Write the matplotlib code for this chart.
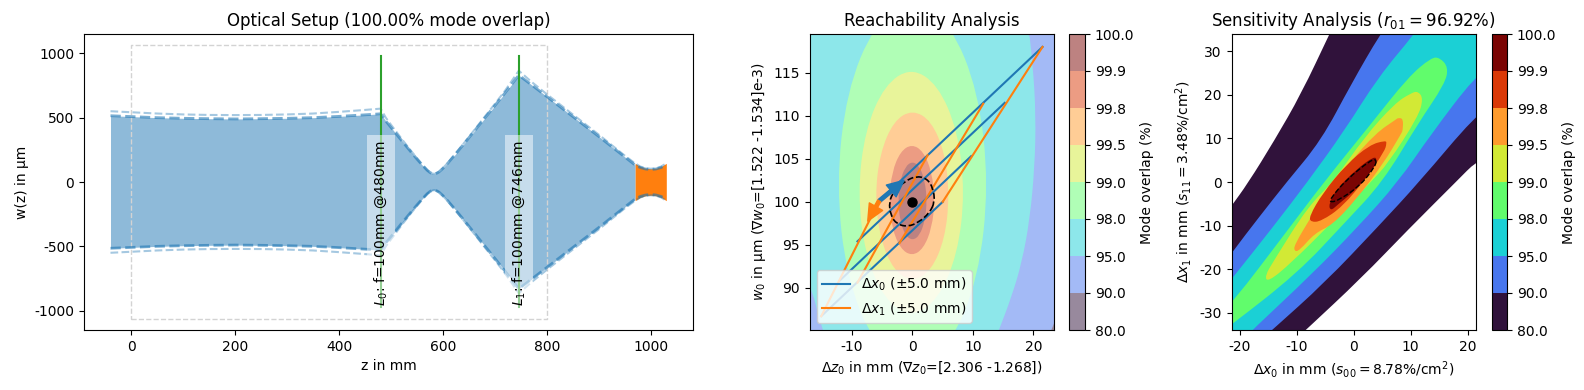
import numpy as np
from matplotlib import pyplot as plt
from matplotlib.cm import ScalarMappable
from matplotlib.colors import BoundaryNorm, ListedColormap
from matplotlib.patches import PathPatch
from matplotlib.path import Path

plt.rcParams['axes.unicode_minus'] = False

# Optical setup: beam radius
beam_z = [-40, 50, 100, 150, 200, 250, 300, 350, 400, 450, 480, 490, 500, 510, 520, 530, 540, 550, 560, 570,
          575, 580, 583, 586, 592, 600, 610, 620, 630, 645, 660, 680, 700, 720, 746, 770, 800, 850, 900, 950, 970]
beam_inner = [515, 500, 495, 492, 490, 492, 495, 500, 510, 522, 530, 474, 424, 374, 324, 275, 226, 178, 132, 90,
              74, 64, 62, 64, 77, 106, 149, 197, 245, 319, 394, 494, 594, 695, 830, 757, 664, 509, 354, 195, 132]
beam_outer = [550, 532, 525, 521, 520, 521, 525, 532, 545, 560, 570, 500, 445, 392, 338, 286, 235, 186, 137, 92,
              75, 66, 63, 66, 79, 108, 152, 200, 250, 325, 402, 505, 607, 712, 865, 780, 682, 525, 368, 205, 145]
target_z = [970, 980, 990, 1000, 1010, 1020, 1030]
target_inner = [132, 112, 101, 97, 101, 112, 135]
target_outer = [145, 120, 107, 103, 107, 120, 145]
lens_pos = [480, 746]
lens_labels = ['$L_0$: f=100mm @480mm', '$L_1$: f=100mm @746mm']

levels = [80, 90, 95, 98, 99, 99.5, 99.8, 99.9, 100]
level_labels = ['80.0', '90.0', '95.0', '98.0', '99.0', '99.5', '99.8', '99.9', '100.0']

# Reachability: contour outlines (dz0, w0)
r80_x = [22.9, 23.6, 25.0, 25.0]
r80_y = [85.0, 86.2, 86.2, 84.0]
r95_x = [18.9, 19.9, 20.4, 20.2, 19.4, 18.1, 16.4, 14.3, 12.0, -12.0, -15.0, -17.0, -25.0, -30.0]
r95_y = [122, 116, 110, 104, 98, 93, 89, 85.1, 81, 80, 85.1, 91, 100, 125]
r98_x = [12.6, 10.9, 6.3, 0, -6.3, -10.9, -12.6, -10.9, -6.3, 0, 6.3, 10.9]
r98_y = [102, 112.8, 120.7, 123.6, 120.7, 112.8, 102, 91.2, 83.3, 80.4, 83.3, 91.2]
r99_x = [8.65, 7.45, 4.2, -0.2, -4.6, -7.85, -9.05, -7.85, -4.6, -0.2, 4.2, 7.45]
r99_y = [101.1, 108.3, 113.6, 115.6, 113.6, 108.3, 101.1, 93.9, 88.6, 86.6, 88.6, 93.9]
r995_x = [6.1, 5.35, 3.1, 0, -3.1, -5.35, -6.2, -5.35, -3.1, 0, 3.1, 5.35]
r995_y = [100.7, 105.7, 109.4, 110.7, 109.4, 105.7, 100.7, 95.7, 92, 90.7, 92, 95.7]
r998_x = [3.7, 3.2, 1.8, -0.1, -2.0, -3.4, -3.9, -3.4, -2.0, -0.1, 1.8, 3.2]
r998_y = [100.2, 103.45, 105.85, 106.7, 105.85, 103.45, 100.2, 96.95, 94.55, 93.7, 94.55, 96.95]
r999_x = [2.4, 2.05, 1.2, 0, -1.2, -2.05, -2.4, -2.05, -1.2, 0, 1.2, 2.05]
r999_y = [100.1, 102.4, 104.1, 104.7, 104.1, 102.4, 100.1, 97.8, 96.1, 95.5, 96.1, 97.8]
reach_ring_x = [3.7, 3.4, 2.4, 0.6, -1.2, -3.0, -3.9, -3.6, -2.6, -0.8, 1.0, 2.8]
reach_ring_y = [100.0, 101.6, 102.7, 103.0, 102.4, 101.3, 100.0, 98.4, 97.4, 97.1, 97.6, 98.7]

# Reachability: sweep lines, (start, end) of each
blue_lines_x = [[21.5, -5.5], [15.25, -9.1], [9.7, -12.1], [5.0, -15.1]]
blue_lines_y = [[118.0, 100.1], [111.5, 95.4], [105.3, 90.8], [100.0, 86.7]]
orange_lines_x = [[21.5, 5.0], [11.7, -2.15], [2.5, -9.1], [-5.5, -15.1]]
orange_lines_y = [[118.0, 100.0], [111.4, 95.2], [105.4, 90.6], [100.1, 86.7]]

# Sensitivity: contour outlines (dx0, dx1)
s80_x = [-21.5, -18.6, -13.9, -9.2, -4.2, -2, 25, 25, 21.4, 18.3, 9.55, 1.35, -8.3, -11, -25, -25]
s80_y = [-5.6, -0.4, 9.5, 20.2, 34, 40, 40, 7, 4.6, 0.5, -10.9, -22, -33.8, -37, -37, -12]
s90_x = [-21.5, -16.5, -11.8, -5.7, -0.4, 4.7, 8, 25, 25, 21.4, 11.5, 4.3, -5.1, -14.2, -17, -25, -25]
s90_y = [-16.4, -7.9, -0.1, 9.5, 22.5, 34, 40, 40, 18, 15.3, 0, -10.2, -23.1, -33.8, -37, -37, -23]
s95_x = [-21.5, -14.5, -8.1, -1.6, 4.3, 10.7, 14, 25, 25, 21.4, 13.6, 7.8, 0.8, -7.4, -17.7, -20, -25, -25]
s95_y = [-22.4, -10.9, 0, 11.8, 24, 34, 40, 40, 27, 24.4, 11, 0, -10.2, -21.2, -33.8, -37, -37, -28]
s98_x = [15.1, 16.6, 16, 11.3, 5.1, -1.6, -9.8, -21.5, -25, -25, -21.5, -11.5, -5.2, 3.1, 9.55, 13.6]
s98_y = [28.5, 26.3, 22.5, 13.4, 0, -9.4, -20.8, -32.8, -36, -32, -28.1, -10.9, 0, 13.4, 24, 28.5]
s99_x = [11.3, 12.2, 11.3, 6, 3, -3.9, -11, -15, -15.6, -13.9, -8, -3.6, 1.9, 7.2, 10.1]
s99_y = [20.8, 19.1, 14.9, 4.2, 0, -9.4, -18.6, -22.9, -21.6, -17.8, -5.6, 0, 10.3, 18, 20.4]
s995_x = [7.8, 8.7, 8.6, 8.4, 5.1, 0.4, -3.7, -6.8, -9.5, -10.4, -10.4, -7.4, -6, -0.76, 3.9, 7.4]
s995_y = [14.7, 14.5, 11.8, 11.2, 4, -4.05, -9.8, -11.7, -15.7, -15.9, -14.4, -7.9, -4.8, 4.35, 11.2, 14.3]
s998_x = [5.6, 5.8, 5.4, 2.2, -1.9, -5.7, -7.5, -7.8, -5.4, -1.3, 2.8]
s998_y = [9.5, 8.9, 7, 0.9, -5.6, -9, -9.2, -7.9, -2.5, 4, 8.5]
s999_x = [3.6, 4.1, 3.6, 0.4, -2.8, -4, -4.4, -3.1, 0.4]
s999_y = [5.9, 5.1, 3.2, -1.8, -5.2, -6.6, -5.2, -1.8, 2.8]
sens_ring_x = [4.1, 3.05, -1.3, -4.15, -4, -2.5, 1, 3.6]
sens_ring_y = [5.1, 5.1, 0.5, -3.9, -4.7, -4.05, -1, 3.2]


def rounded_path(x, y):
    # closed outline drawn as quadratic curves through the edge midpoints
    pts = np.column_stack([x, y])
    nxt = np.roll(pts, -1, axis=0)
    mids = (pts + nxt) / 2
    verts = [mids[-1]]
    codes = [Path.MOVETO]
    for ctrl, mid in zip(pts, mids):
        verts += [ctrl, mid]
        codes += [Path.CURVE3, Path.CURVE3]
    return Path(verts, codes)


def fill_outline(ax, x, y, color):
    ax.add_patch(PathPatch(rounded_path(x, y), facecolor=color, edgecolor='none', lw=0))


W, H = 1584, 390


def place(left, right, top=34, bottom=330):
    return fig.add_axes([left / W, 1 - bottom / H, (right - left) / W, (bottom - top) / H])


fig = plt.figure(figsize=(W / 100, H / 100), dpi=100)
ax0 = place(84, 692.8)
ax1 = place(809.7, 1054)
cax1 = place(1069, 1085)
ax2 = place(1231.6, 1475.7)
cax2 = place(1491.5, 1507)

# Panel 1
ax0.plot([0, 800, 800, 0, 0], [-1064, -1064, 1064, 1064, -1064], color='lightgray', ls='--', lw=1)
ax0.fill_between(beam_z, -np.array(beam_inner), beam_inner, color='C0', alpha=0.5, lw=0)
ax0.fill_between(target_z, -np.array(target_outer), target_outer, color='C1', lw=0)
for sign in (1, -1):
    ax0.plot(beam_z + target_z, sign * np.array(beam_inner + target_inner), color='C0', ls='--', alpha=0.6, lw=2)
    ax0.plot(beam_z + target_z, sign * np.array(beam_outer + target_outer), color='C0', ls='--', alpha=0.4, lw=1.5)
for pos, label in zip(lens_pos, lens_labels):
    ax0.plot([pos, pos], [-970, 976], color='C2', lw=1.5)
    ax0.text(pos, -965, label, rotation=90, ha='center', va='bottom', fontsize=10,
             bbox=dict(facecolor='white', alpha=0.5, edgecolor='none'))
ax0.set_xlim(-91, 1081)
ax0.set_ylim(-1150, 1150)
ax0.set_xticks([0, 200, 400, 600, 800, 1000])
ax0.set_yticks([-1000, -500, 0, 500, 1000])
ax0.set_xlabel('z in mm')
ax0.set_ylabel('w(z) in µm')
ax0.set_title('Optical Setup (100.00% mode overlap)')

# Panel 2
turbo = plt.get_cmap('turbo', 8)(np.arange(8))
soft = turbo * 0.5 + 0.5
ax1.set_facecolor(soft[1])
ax1.fill(r80_x, r80_y, color=soft[0], lw=0)
reach_outlines = [(r95_x, r95_y), (r98_x, r98_y), (r99_x, r99_y), (r995_x, r995_y), (r998_x, r998_y), (r999_x, r999_y)]
for i, (x, y) in enumerate(reach_outlines):
    fill_outline(ax1, x, y, soft[i + 2])
ring = PathPatch(rounded_path(reach_ring_x, reach_ring_y), fill=False, edgecolor='k', ls='--', lw=1.2, zorder=4)
ax1.add_patch(ring)
for i, (x, y) in enumerate(zip(blue_lines_x, blue_lines_y)):
    ax1.plot(x, y, color='C0', label=r'$\Delta x_0$ ($\pm$5.0 mm)' if i == 0 else None, zorder=3)
for i, (x, y) in enumerate(zip(orange_lines_x, orange_lines_y)):
    ax1.plot(x, y, color='C1', label=r'$\Delta x_1$ ($\pm$5.0 mm)' if i == 0 else None, zorder=3)
ax1.annotate('', xy=(-1.4, 102.5), xytext=(-5.5, 100.1), zorder=5,
             arrowprops=dict(color='C0', width=2.5, headwidth=11, headlength=12, shrink=0))
ax1.annotate('', xy=(-7.4, 97.75), xytext=(-5.5, 100.1), zorder=5,
             arrowprops=dict(color='C1', width=2.5, headwidth=11, headlength=12, shrink=0))
ax1.plot([0], [100], 'o', color='k', ms=6.5, zorder=6)
ax1.legend(loc='lower left')
ax1.set_xlim(-17, 23.4)
ax1.set_ylim(85.1, 119.5)
ax1.set_xticks([-10, 0, 10, 20])
ax1.set_yticks([90, 95, 100, 105, 110, 115])
ax1.set_xlabel(r'$\Delta z_0$ in mm ($\nabla z_0$=[2.306 -1.268])')
ax1.set_ylabel(r'$w_0$ in µm ($\nabla w_0$=[1.522 -1.534]e-3)')
ax1.set_title('Reachability Analysis')

# Panel 3
sens_outlines = [(s80_x, s80_y), (s90_x, s90_y), (s95_x, s95_y), (s98_x, s98_y), (s99_x, s99_y),
                 (s995_x, s995_y), (s998_x, s998_y), (s999_x, s999_y)]
for i, (x, y) in enumerate(sens_outlines):
    fill_outline(ax2, x, y, turbo[i])
ax2.add_patch(PathPatch(rounded_path(sens_ring_x, sens_ring_y), fill=False, edgecolor='k', ls='--', lw=1, zorder=4))
ax2.set_xlim(-21.4, 21.4)
ax2.set_ylim(-33.9, 33.9)
ax2.set_xticks([-20, -10, 0, 10, 20])
ax2.set_yticks([-30, -20, -10, 0, 10, 20, 30])
ax2.set_xlabel(r'$\Delta x_0$ in mm ($s_{00}=8.78$%/cm$^2$)')
ax2.set_ylabel(r'$\Delta x_1$ in mm ($s_{11}=3.48$%/cm$^2$)')
ax2.set_title(r'Sensitivity Analysis ($r_{01}=96.92$%)')

# Colorbars
for cax, colors in ((cax1, soft), (cax2, turbo)):
    sm = ScalarMappable(norm=BoundaryNorm(levels, 8), cmap=ListedColormap(colors))
    cb = fig.colorbar(sm, cax=cax, spacing='uniform', ticks=levels)
    cb.ax.set_yticklabels(level_labels)
    cb.set_label('Mode overlap (%)')

plt.savefig('out.png', dpi=100)
